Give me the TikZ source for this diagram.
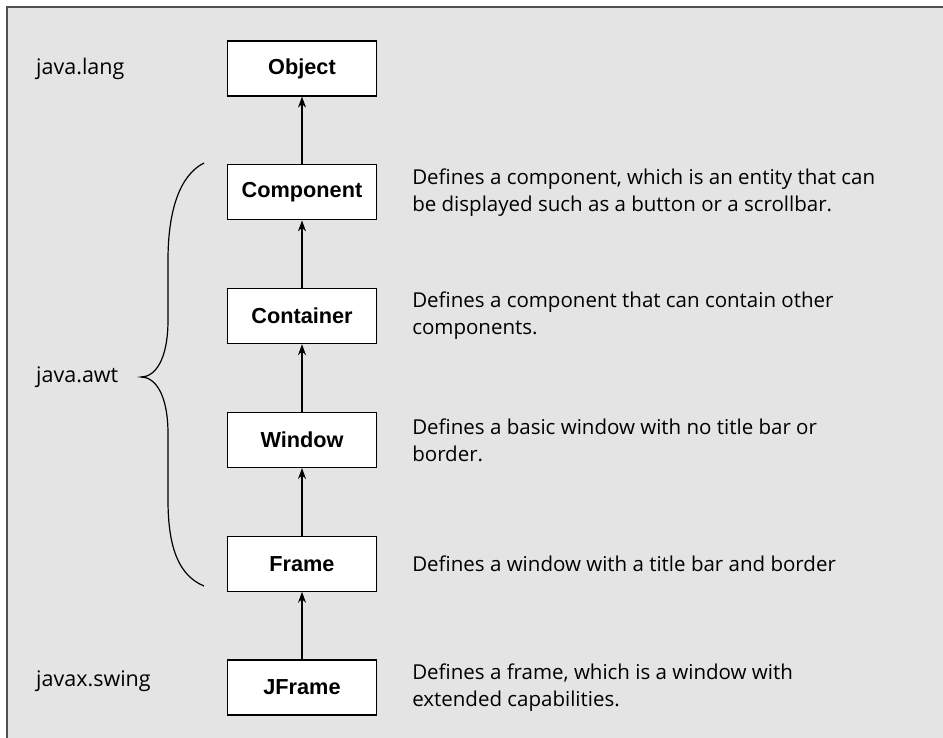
\documentclass[tikz,border=0pt]{standalone}
\usepackage{fontspec}
\setmainfont{Liberation Sans}
\newfontfamily\notefont{Open Sans}
\usetikzlibrary{arrows.meta,positioning}
\definecolor{panel}{HTML}{E4E4E4}
\definecolor{rim}{HTML}{505050}

\begin{document}
\begin{tikzpicture}[
  x=1pt, y=-1pt,
  node distance=67.6pt,
  cls/.style={draw, fill=white, line width=1.2pt, minimum width=149pt, minimum height=55pt, font=\bfseries\fontsize{21.7}{25}\selectfont},
  note/.style={align=left, inner sep=0pt, font=\notefont\fontsize{20.5}{27}\selectfont},
  pkg/.style={anchor=west, inner sep=0pt, font=\notefont\fontsize{21.5}{24}\selectfont},
  arrow/.style={-{Stealth[length=11pt,width=8pt]}, line width=1.2pt}
]
\useasboundingbox (0,0) rectangle (943,738);
\draw[rim, fill=panel, line width=2pt] (7,7) rectangle (960,760);

\node[cls] at (302,68.5) (obj) {Object};
\node[cls, below=of obj] (comp) {Component};
\node[cls, below=of comp] (cont) {Container};
\node[cls, below=of cont] (win) {Window};
\node[cls, below=of win] (frame) {Frame};
\node[cls, below=of frame] (jframe) {JFrame};

\node[note, right=35pt of comp] (compnote) {Defines a component, which is an entity that can\\be displayed such as a button or a scrollbar.};
\node[note, right=35pt of cont] (contnote) {Defines a component that can contain other\\components.};
\node[note, right=35pt of win] (winnote) {Defines a basic window with no title bar or\\border.};
\node[note, right=35pt of frame] (framenote) {Defines a window with a title bar and border};
\node[note, right=35pt of jframe] (jframenote) {Defines a frame, which is a window with\\extended capabilities.};

\node[pkg] at (36,68.5) (lang) {java.lang};
\node[pkg] at (36,377) (awt) {java.awt};
\node[pkg] at (36,681.5) (swing) {javax.swing};

\draw[arrow] (comp) -- (obj);
\draw[arrow] (cont) -- (comp);
\draw[arrow] (win) -- (cont);
\draw[arrow] (frame) -- (win);
\draw[arrow] (jframe) -- (frame);

% brace round the java.awt classes
\draw[line width=1.2pt] (204,163) .. controls (180,175) and (168,210) .. (168,260) -- (168,320)
  .. controls (168,360) and (155,377) .. (141,377)
  .. controls (155,377) and (168,394) .. (168,434) -- (168,500)
  .. controls (168,550) and (180,576) .. (204,586);
\end{tikzpicture}
\end{document}
